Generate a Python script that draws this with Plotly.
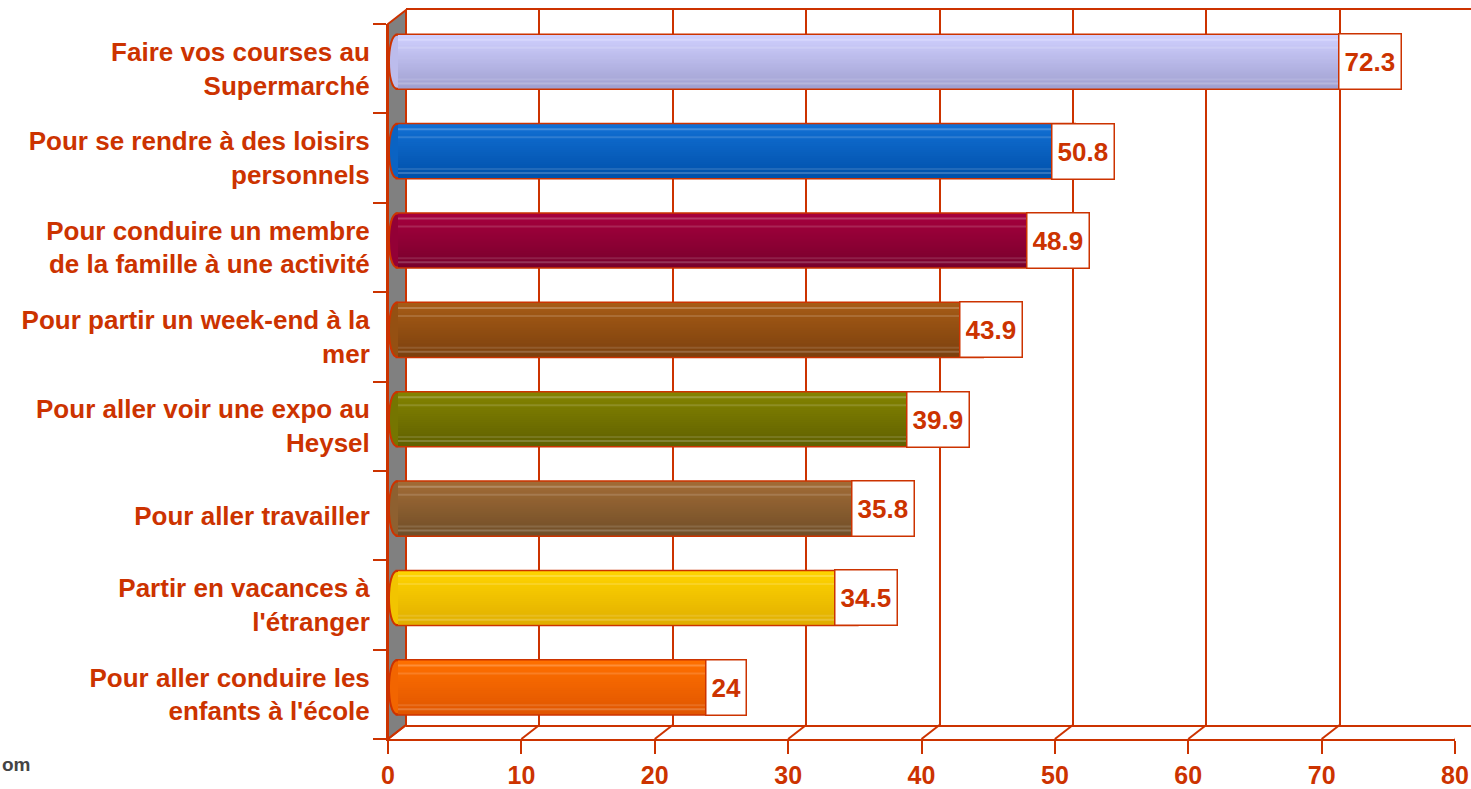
import plotly.graph_objects as go

# ---- data ----
categories = [
    "Faire vos courses au<br>Supermarché",
    "Pour se rendre à des loisirs<br>personnels",
    "Pour conduire un membre<br>de la famille à une activité",
    "Pour partir un week-end à la<br>mer",
    "Pour aller voir une expo au<br>Heysel",
    "Pour aller travailler",
    "Partir en vacances à<br>l'étranger",
    "Pour aller conduire les<br>enfants à l'école",
]
values = [72.3, 50.8, 48.9, 43.9, 39.9, 35.8, 34.5, 24]
x_ticks = [0, 10, 20, 30, 40, 50, 60, 70, 80]

# cylinder shading: colour at the top and at the bottom of each bar
top_colors = [(208, 208, 255), (18, 112, 212), (166, 0, 62), (166, 92, 22),
              (132, 132, 0), (162, 108, 54), (255, 212, 0), (255, 112, 0)]
bottom_colors = [(160, 160, 208), (0, 80, 170), (120, 0, 44), (124, 64, 14),
                 (96, 96, 0), (112, 78, 40), (224, 174, 0), (224, 86, 0)]

# ---- geometry (pixels) ----
W, H = 1471, 789
RED = "#cc3300"
FONT = "Arial, Liberation Sans, Helvetica, sans-serif"
front_l, front_r = 388, 1455          # front floor edge: 0 .. 80
depth_x, depth_y = 18, 14             # 3-D depth offset
scale = (front_r - front_l) / 80.0
front_top, front_bot = 24, 739


def py(p):
    return 1 - p / H


n = len(categories)
idx = list(range(n))
bar_w = 0.6
n_strips = 27
strip_w = bar_w / n_strips
# thin light streaks across the cylinder (strip index -> whitening)
highlights = {2: 0.22, 6: 0.14, 22: 0.12, 24: 0.2}

fig = go.Figure()

# invisible trace so the back-wall subplot is created
fig.add_trace(go.Scatter(x=[0], y=[0], xaxis="x2", yaxis="y4",
                         mode="markers", marker=dict(opacity=0),
                         hoverinfo="skip", showlegend=False))

# bar outlines, underneath the shading strips
fig.add_trace(go.Bar(
    x=values, y=idx, orientation="h", xaxis="x3", yaxis="y3",
    width=bar_w, marker=dict(color=RED, line=dict(color=RED, width=3)),
    hoverinfo="skip", showlegend=False,
))

# striped cylinders (each strip overlaps the next to avoid seams)
for j in range(n_strips):
    t = (j + 0.5) / n_strips
    cols = []
    for tc, bc in zip(top_colors, bottom_colors):
        c = [tc[k] + (bc[k] - tc[k]) * t for k in range(3)]
        h = highlights.get(j, 0)
        c = [v + (255 - v) * h for v in c]
        cols.append("rgb(%d,%d,%d)" % tuple(int(round(v)) for v in c))
    w = strip_w * (1.0 if j == n_strips - 1 else 1.8)
    fig.add_trace(go.Bar(
        x=values, y=idx, orientation="h", xaxis="x3", yaxis="y3",
        width=w, offset=-bar_w / 2 + j * strip_w,
        marker=dict(color=cols, line=dict(width=0)),
        hoverinfo="skip", showlegend=False,
    ))

shapes = []
# grey side wall
shapes.append(dict(
    type="path", xref="paper", yref="paper", layer="below",
    path="M %f,%f L %f,%f L %f,%f L %f,%f Z" % (
        front_l / W, py(front_top), (front_l + depth_x) / W, py(front_top - depth_y),
        (front_l + depth_x) / W, py(front_bot - depth_y), front_l / W, py(front_bot)),
    fillcolor="#808080", line=dict(color=RED, width=2),
))
# rounded left ends of the cylinders (half ellipse, outlined on the curve only)
for i in idx:
    mid = [(a * 0.6 + b * 0.4) for a, b in zip(top_colors[i], bottom_colors[i])]
    shapes.append(dict(
        type="path", xref="x3", yref="y3", layer="above",
        xsizemode="pixel", ysizemode="pixel", xanchor=0, yanchor=i,
        path="M 1,27 L 0,27 C -10.7,27 -10.7,-27 0,-27 L 1,-27",
        fillcolor="rgb(%d,%d,%d)" % tuple(int(v) for v in mid),
        line=dict(color=RED, width=2),
    ))
# floor: slanted connectors at each tick
for v in x_ticks:
    shapes.append(dict(
        type="line", xref="x", yref="paper",
        x0=v, x1=v + depth_x / scale, y0=py(front_bot), y1=py(front_bot - depth_y),
        line=dict(color=RED, width=2),
    ))

# value boxes
annotations = []
for i, v in enumerate(values):
    annotations.append(dict(
        x=v, y=i, xref="x3", yref="y3", xshift=8.5, xanchor="center",
        text=("%g" % v), showarrow=False,
        font=dict(family=FONT, size=26, color=RED, weight="bold"),
        bgcolor="white", bordercolor=RED, borderwidth=1.5, borderpad=5,
        height=44,
    ))
annotations.append(dict(
    x=0.0, y=py(777), xref="paper", yref="paper", xanchor="left",
    text="om", showarrow=False,
    font=dict(family=FONT, size=19, color="#444444", weight="bold"),
))

half = depth_x / 2
fig.update_layout(
    width=W, height=H, margin=dict(l=0, r=0, t=0, b=0, autoexpand=False),
    paper_bgcolor="white", plot_bgcolor="rgba(0,0,0,0)",
    barmode="overlay", showlegend=False,
    shapes=shapes, annotations=annotations,
    # front floor axis with value ticks
    xaxis=dict(
        domain=[front_l / W, front_r / W], range=[0, 80], anchor="y2", automargin=False,
        tickvals=x_ticks, ticks="outside", ticklen=13, tickwidth=2, tickcolor=RED,
        showline=True, linecolor=RED, linewidth=2, showgrid=False, zeroline=False,
        tickfont=dict(family=FONT, size=25, color=RED, weight="bold"),
        ticklabelstandoff=0,
    ),
    # front left axis with category labels
    yaxis2=dict(
        domain=[py(front_bot), py(front_top)], range=[n - 0.5, -0.5], anchor="x",
        automargin=False,
        tickvals=idx, ticktext=categories, ticks="", showgrid=False, zeroline=False,
        showline=True, linecolor=RED, linewidth=2,
        tickfont=dict(family=FONT, size=26, color=RED, weight="bold"),
        ticklabelstandoff=11,
        minor=dict(tickvals=[k - 0.5 for k in range(n + 1)], ticks="outside",
                   ticklen=13, tickwidth=2, tickcolor=RED, showgrid=False),
    ),
    # back wall grid
    xaxis2=dict(
        domain=[(front_l + depth_x) / W, 1], range=[0, (W - front_l - depth_x) / scale],
        anchor="y4", automargin=False, tickvals=x_ticks, showticklabels=False, ticks="",
        showgrid=True, gridcolor=RED, gridwidth=2,
        zeroline=True, zerolinecolor=RED, zerolinewidth=2,
        showline=True, mirror=True, linecolor=RED, linewidth=2,
    ),
    yaxis4=dict(
        domain=[py(front_bot - depth_y), py(front_top - depth_y)], range=[0, 1],
        anchor="x2", visible=False, automargin=False,
    ),
    # cylinders sit halfway between front and back; the axis starts a little
    # left of zero so the rounded end caps are not clipped
    xaxis3=dict(
        domain=[front_l / W, (front_r + half) / W], range=[-half / scale, 80],
        anchor="y3", visible=False, automargin=False,
    ),
    yaxis3=dict(
        domain=[py(front_bot - depth_y / 2), py(front_top - depth_y / 2)],
        range=[n - 0.5, -0.5], anchor="x3", visible=False, automargin=False,
    ),
)

fig.write_html("out.html")
